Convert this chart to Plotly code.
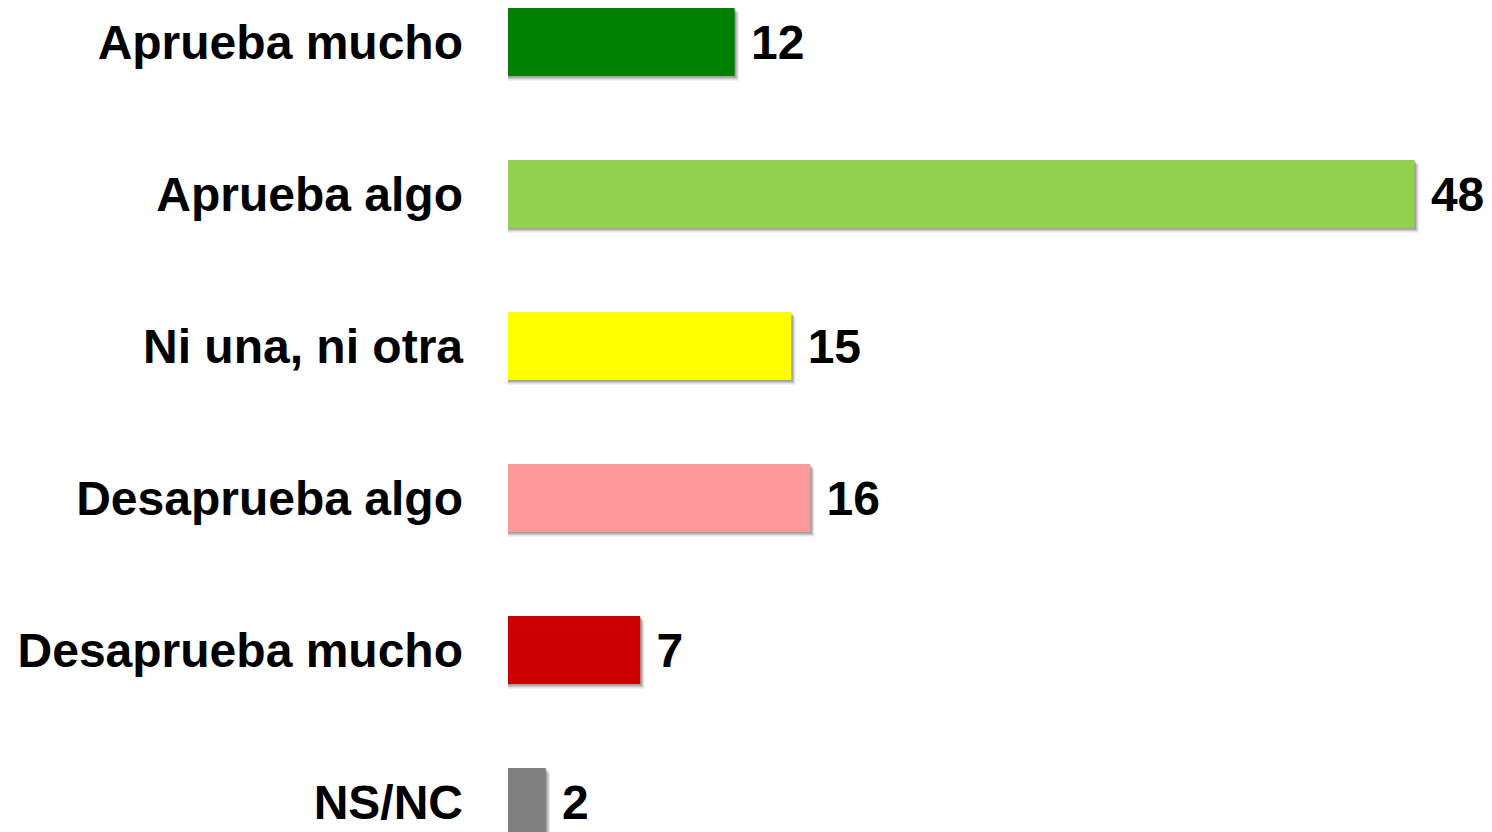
import plotly.graph_objects as go

categories = ["Aprueba mucho", "Aprueba algo", "Ni una, ni otra",
              "Desaprueba algo", "Desaprueba mucho", "NS/NC"]
values = [12, 48, 15, 16, 7, 2]
colors = ["#008000", "#92D050", "#FFFF00", "#FF9999", "#CC0000", "#808080"]

FONT = dict(family="Liberation Sans, Arial, sans-serif", size=48, color="#000000", weight="bold")
BAR_W = 0.447

fig = go.Figure()

# soft drop shadow layers (drawn from the same values)
for dx, dy, op in [(0.22, 0.03, 0.10), (0.15, 0.02, 0.14), (0.08, 0.01, 0.18)]:
    fig.add_trace(go.Bar(
        y=list(range(len(categories))), x=[v + dx for v in values],
        orientation="h", width=BAR_W, offset=-BAR_W / 2 + dy,
        marker=dict(color=f"rgba(0,0,0,{op})", line=dict(width=0)),
        hoverinfo="skip", showlegend=False,
    ))

fig.add_trace(go.Bar(
    y=list(range(len(categories))), x=values, orientation="h",
    width=BAR_W,
    marker=dict(color=colors, line=dict(width=0)),
    text=[f" {v}" for v in values], textposition="outside",
    textfont=FONT, cliponaxis=False, showlegend=False,
))

fig.update_layout(
    width=1484, height=824,
    margin=dict(l=500, r=0, t=0, b=0),
    paper_bgcolor="white", plot_bgcolor="white",
    barmode="overlay",
    xaxis=dict(range=[0, 52.1], visible=False),
    yaxis=dict(
        range=[5.197, -0.2237], tickmode="array",
        tickvals=list(range(len(categories))), ticktext=categories,
        tickfont=FONT, showgrid=False, zeroline=False, showline=False,
        ticks="", ticklabelstandoff=44,
    ),
)

fig.write_html("out.html")
